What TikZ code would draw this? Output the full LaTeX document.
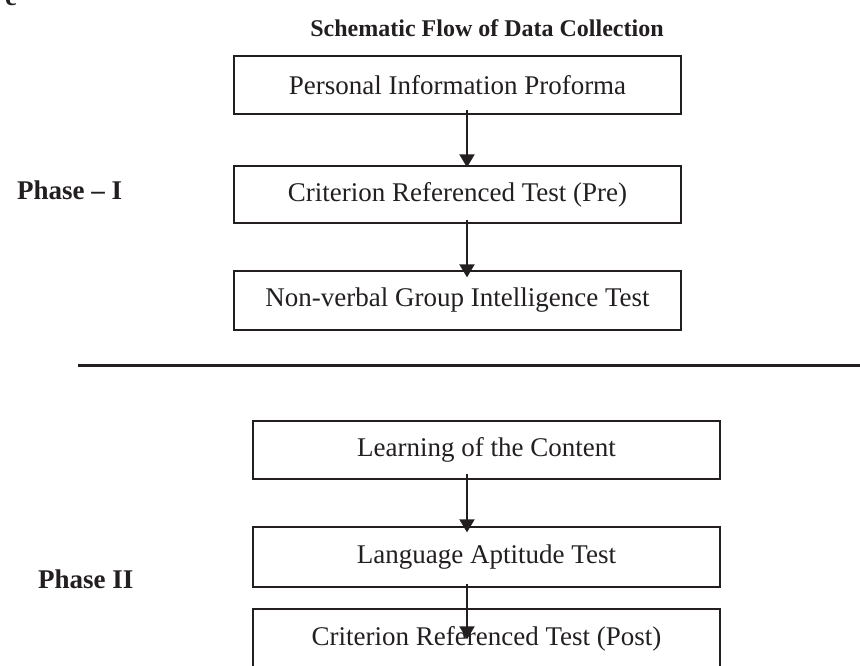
\documentclass[tikz,border=0pt]{standalone}
\usepackage{fontspec}
\setmainfont{Liberation Serif}
\usetikzlibrary{arrows.meta,calc}
\definecolor{ink}{HTML}{231F20}
\begin{document}
\begin{tikzpicture}[x=1pt,y=-1pt,
  box/.style={draw=ink, line width=1.3pt, rectangle, inner sep=0pt,
    font=\fontsize{27}{32}\selectfont, text=ink},
  arr/.style={draw=ink, line width=2pt, -{Triangle[width=15pt,length=13pt]}},
  lab/.style={font=\fontsize{27}{32}\selectfont\bfseries, text=ink, anchor=base west, inner sep=0pt},
]
\useasboundingbox[fill=white] (0,0) rectangle (860,665);

\node[font=\fontsize{27}{32}\selectfont\bfseries, text=ink, anchor=base, inner sep=0pt] (fig) at (11,5) {e};
\node[font=\fontsize{24}{28}\selectfont\bfseries, text=ink, anchor=base, inner sep=0pt] (title) at (487,36) {Schematic Flow of Data Collection};

\node[box, minimum width=447pt, minimum height=58pt] (b1) at (457.5,85) {Personal Information Proforma};
\node[box, minimum width=447pt, minimum height=57pt] (b2) at (457.5,194.5) {Criterion Referenced Test (Pre)};
\node[box, minimum width=447pt, minimum height=59pt] (b3) at (457.5,300.5) {Non-verbal Group Intelligence Test};

\node[lab] (p1) at (17,199) {Phase – I};

\draw[ink, line width=3pt] (78,365) -- (860,365);

\node[box, minimum width=467pt, minimum height=58pt] (b4) at (486.5,450) {Learning of the Content};
\node[box, minimum width=467pt, minimum height=60pt] (b5) at (486.5,557) {Language Aptitude Test};
\node[box, minimum width=467pt, minimum height=60pt] (b6) at (486.5,639) {Criterion Referenced Test (Post)};

\node[lab] (p2) at (38,588) {Phase II};

\coordinate (ax) at (467,0);
\draw[arr] ($(b1.south -| ax)+(0,-5)$) -- ($(b2.north -| ax)+(0,2)$);
\draw[arr] ($(b2.south -| ax)+(0,-4)$) -- ($(b3.north -| ax)+(0,7)$);
\draw[arr] ($(b4.south -| ax)+(0,-6)$) -- ($(b5.north -| ax)+(0,6)$);
\draw[arr] ($(b5.south -| ax)+(0,-4)$) -- ($(b6.north -| ax)+(0,31)$);
\end{tikzpicture}
\end{document}
